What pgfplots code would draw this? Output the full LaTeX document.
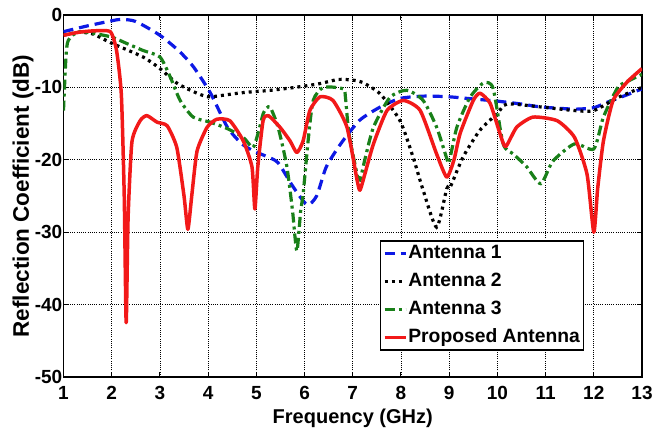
\documentclass[border=0pt]{standalone}
\usepackage{pgfplots}
\pgfplotsset{compat=1.18}
\usepackage{fontspec}
\setmainfont{Liberation Sans}
\definecolor{mgreen}{rgb}{0.1,0.5,0.1}
\definecolor{mred}{rgb}{0.95,0.1,0.1}
\definecolor{mblue}{rgb}{0.05,0.1,0.9}
\begin{document}
\begin{tikzpicture}
\useasboundingbox (-63.5bp,-55bp) rectangle (590.5bp,377bp);
\begin{axis}[
  scale only axis,
  width=578.5bp, height=362bp,
  xmin=1, xmax=13, ymin=-50, ymax=0,
  xtick={1,2,...,13}, ytick={-50,-40,...,0},
  /pgf/number format/assume math mode=true,
  tick label style={font=\fontsize{19bp}{22bp}\selectfont\bfseries},
  yticklabel style={inner sep=1bp},
  xticklabel style={inner sep=1bp},
  xticklabel shift=8bp,
  xlabel={Frequency (GHz)},
  ylabel={Reflection Coefficient (dB)},
  xlabel style={font=\fontsize{20bp}{24bp}\selectfont\bfseries, inner sep=0bp, yshift=-8bp},
  ylabel style={font=\fontsize{22.5bp}{26bp}\selectfont\bfseries, inner sep=0bp},
  axis line style={line width=1.6bp},
  tick align=inside,
  major tick length=5bp,
  tick style={line width=1bp, black},
  grid=major,
  major grid style={black, line width=0.6bp, dash pattern=on 1bp off 1.2bp},
  legend cell align=left,
  legend style={at={(0.9,0.072)}, anchor=south east,
    font=\fontsize{19.3bp}{22bp}\selectfont\bfseries,
    draw=black, line width=1.5bp, inner sep=2.5bp, row sep=8bp,
    nodes={inner sep=1bp, text height=14bp, text depth=4bp}},
  legend image code/.code={\draw[#1] (0bp,0bp) -- (21bp,0bp);},
]
\addplot[mblue, line width=3.2bp, dash pattern=on 10bp off 6bp, smooth, tension=0.4] coordinates {
(1,-2.3) (1.5,-1.5) (2,-0.8) (2.2,-0.6) (2.5,-0.9) (3,-2.8) (3.4,-5) (3.7,-7.2) (4.05,-10.8) (4.4,-15.5) (4.7,-17.8) (4.95,-18.8) (5.2,-19.5) (5.45,-20.4) (5.75,-23.6) (6.05,-26.2) (6.25,-25) (6.45,-21) (6.75,-17.8) (7.15,-14.5) (7.6,-12.6) (8,-11.5) (8.5,-11.2) (9,-11.3) (9.5,-11.6) (10,-11.9) (10.5,-12.3) (10.9,-12.7) (11.6,-13) (12,-12.8) (12.3,-12) (12.7,-11) (13,-10.2)};
\addlegendentry{Antenna 1}
\addplot[black, line width=3.2bp, dash pattern=on 3bp off 4bp, smooth, tension=0.4] coordinates {
(1,-2.8) (1.3,-2.4) (1.6,-2.6) (2,-3.9) (2.65,-5.8) (3,-7.4) (3.35,-9.4) (3.7,-10.6) (4,-11.3) (4.4,-11.0) (4.75,-10.7) (5.3,-10.4) (5.8,-10.0) (6.3,-9.5) (6.7,-8.9) (7,-9.0) (7.2,-9.3) (7.57,-10.9) (7.98,-14.6) (8.25,-19.6) (8.46,-24.2) (8.74,-29.3) (8.95,-24) (9.02,-23.8) (9.29,-19.6) (9.64,-15.9) (10,-13.6) (10.2,-12.3) (10.9,-12.7) (11.6,-13.2) (12,-13.2) (12.5,-11.4) (13,-10)};
\addlegendentry{Antenna 2}
\addplot[mgreen, line width=3.2bp, dash pattern=on 10bp off 4bp on 3bp off 4bp, smooth, tension=0.4] coordinates {
(1,-13.2) (1.05,-6) (1.1,-3.5) (1.34,-2.3) (1.97,-3.0) (2.3,-3.9) (2.65,-4.9) (3,-5.8) (3.21,-8.5) (3.42,-11.8) (3.69,-14.1) (4.04,-14.8) (4.4,-15.7) (4.73,-16.9) (4.93,-18.3) (5.05,-16) (5.15,-13.5) (5.28,-12.7) (5.45,-15.5) (5.63,-20.8) (5.75,-27) (5.84,-32.6) (5.92,-27) (5.97,-24.8) (6.08,-17) (6.18,-11.8) (6.39,-10) (6.8,-10.2) (6.85,-11.5) (6.92,-16.3) (7.09,-22) (7.15,-22.8) (7.25,-20) (7.43,-15.5) (7.77,-11.4) (8.12,-10.4) (8.46,-11.8) (8.74,-15.5) (8.95,-19.8) (9.0,-20.3) (9.16,-15.5) (9.43,-11.4) (9.71,-9.4) (9.91,-10.1) (10.12,-17.8) (10.33,-19.2) (10.6,-20.9) (10.9,-23.3) (11.15,-20.2) (11.6,-17.8) (12,-18.5) (12.2,-14.1) (12.5,-10) (12.75,-9) (13,-8.2)};
\addlegendentry{Antenna 3}
\addplot[mred, line width=3.5bp, line join=round, smooth, tension=0.35] coordinates {
(1,-2.8) (1.3,-2.4) (1.6,-2.2) (1.97,-2.3) (2.1,-4.9) (2.2,-11) (2.26,-25) (2.3,-42.5) (2.34,-28) (2.42,-17.5) (2.59,-14.6) (2.73,-13.9) (2.94,-14.8) (3.15,-15.3) (3.35,-18.3) (3.5,-25) (3.58,-29.6) (3.66,-25) (3.77,-18.8) (3.98,-15.5) (4.18,-14.4) (4.45,-14.6) (4.73,-17.4) (4.91,-21) (4.97,-26.8) (5.03,-21) (5.14,-14.6) (5.25,-13.9) (5.49,-15.5) (5.7,-17.4) (5.84,-19) (5.97,-17.4) (6.11,-13.2) (6.32,-11.3) (6.59,-11.8) (6.88,-15.5) (7.09,-22.8) (7.15,-24.2) (7.25,-22) (7.43,-17.8) (7.71,-13.2) (8.05,-11.8) (8.4,-13.2) (8.74,-19.2) (8.95,-22.4) (9.1,-20) (9.23,-16.3) (9.5,-11.8) (9.64,-10.8) (9.85,-12.2) (10.05,-16.3) (10.17,-18.2) (10.4,-15.5) (10.74,-14.1) (11.24,-14.6) (11.6,-16.9) (11.86,-22) (12.0,-30) (12.08,-24) (12.2,-17.4) (12.4,-11.8) (12.7,-9.2) (13,-7.4)};
\addlegendentry{Proposed Antenna}
\end{axis}
\end{tikzpicture}
\end{document}
